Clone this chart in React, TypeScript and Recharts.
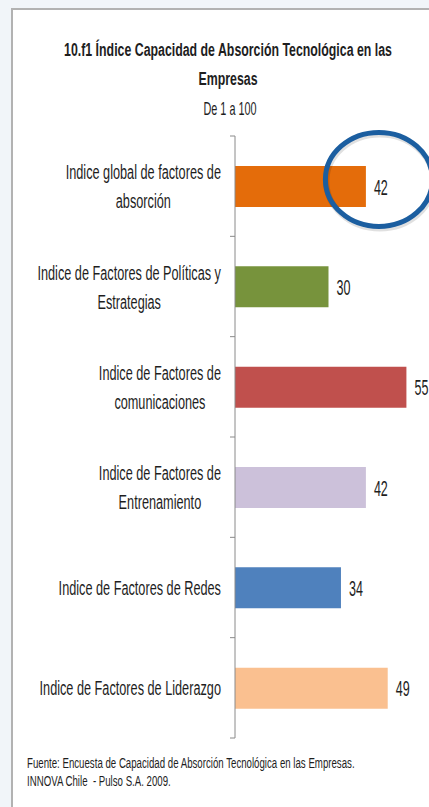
import React from 'react';
import { BarChart, Bar, XAxis, YAxis, Cell, LabelList, ReferenceDot } from 'recharts';

const categories = [
  'Indice global de factores de|absorción',
  'Indice de Factores de Políticas y|Estrategias',
  'Indice de Factores de|comunicaciones',
  'Indice de Factores de|Entrenamiento',
  'Indice de Factores de Redes',
  'Indice de Factores de Liderazgo',
];
const values = [42, 30, 55, 42, 34, 49];
const colors = ['#E46C0A', '#77933C', '#C0504D', '#CCC1DA', '#4F81BD', '#FAC090'];
const titleLines = ['10.f1 Índice Capacidad de Absorción Tecnológica en las', 'Empresas'];
const subtitle = 'De 1 a 100';
const footerLines = [
  'Fuente: Encuesta de Capacidad de Absorción Tecnológica en las Empresas.',
  'INNOVA Chile  - Pulso S.A. 2009.',
];
const xDomain = [0, 60];
const highlightIndex = 0;

const data = categories.map((name, i) => ({ name, value: values[i] }));

const W = 429;
const H = 807;
const AXIS_X = 235;
const TOP = 136;
const BOTTOM = 738;
const BAND = (BOTTOM - TOP) / categories.length;
const FONT = '"Liberation Sans", Arial, sans-serif';
const LABEL_SIZE = 21;
const LABEL_SX = 0.605;

let ctx: CanvasRenderingContext2D | null = null;
function measure(text: string, size: number, weight = 'normal') {
  if (!ctx) ctx = document.createElement('canvas').getContext('2d');
  if (!ctx) return text.length * size * 0.5;
  ctx.font = `${weight} ${size}px "Liberation Sans"`;
  return ctx.measureText(text).width;
}

function SText({ x, y, anchor = 'start', size, weight = 'normal', sx = 0.63, fill = '#1e1e1e', children }: any) {
  return (
    <text
      transform={`translate(${x},${y}) scale(${sx},1)`}
      textAnchor={anchor}
      fontFamily={FONT}
      fontSize={size}
      fontWeight={weight}
      fill={fill}
      style={{ whiteSpace: 'pre' }}
    >
      {children}
    </text>
  );
}

function CategoryTick(props: any) {
  const { y, payload, index } = props;
  const lines = String(payload.value).split('|');
  const gap = 29;
  const start = -((lines.length - 1) * gap) / 2;
  const isLast = index === categories.length - 1;
  const right = AXIS_X - 14;
  const blockW = Math.max(...lines.map((l) => measure(l, LABEL_SIZE) * LABEL_SX));
  const cx = right - blockW / 2;
  return (
    <g>
      {lines.map((ln: string, i: number) => (
        <SText key={i} x={cx} y={y + start + i * gap + 7.5} anchor="middle" size={LABEL_SIZE} sx={LABEL_SX}>
          {ln}
        </SText>
      ))}
      <line x1={AXIS_X - 5} x2={AXIS_X} y1={y - BAND / 2} y2={y - BAND / 2} stroke="#8a8a8a" strokeWidth={1} />
      {isLast && (
        <line x1={AXIS_X - 5} x2={AXIS_X} y1={y + BAND / 2} y2={y + BAND / 2} stroke="#8a8a8a" strokeWidth={1} />
      )}
    </g>
  );
}

function ValueLabel(props: any) {
  const { x, y, width, height, value } = props;
  return (
    <SText x={x + width + 8} y={y + height / 2 + 8} size={22} sx={0.57}>
      {value}
    </SText>
  );
}

function Ring(props: any) {
  const { cx, cy } = props;
  const ex = cx + 13;
  const ey = cy - 6.7;
  return (
    <g>
      <ellipse cx={ex + 1} cy={ey + 2} rx={53.5} ry={47} fill="none" stroke="rgba(0,0,0,0.12)" strokeWidth={6} />
      <ellipse cx={ex} cy={ey} rx={53.5} ry={47} fill="none" stroke="#1B5EA0" strokeWidth={5} />
    </g>
  );
}

export default function App() {
  return (
    <div style={{ position: 'absolute', left: 0, top: 0, width: W, height: H, background: '#f1f5f9', overflow: 'hidden' }}>
      <div
        style={{
          position: 'absolute',
          left: 11,
          top: 8,
          width: W,
          height: H,
          background: '#ffffff',
          borderLeft: '2px solid #b2b2b2',
          borderTop: '2px solid #b2b2b2',
        }}
      />
      <div style={{ position: 'absolute', left: 0, top: 0 }}>
        <BarChart
          width={W}
          height={H}
          data={data}
          layout="vertical"
          margin={{ top: TOP, right: W - 422, bottom: H - BOTTOM, left: 0 }}
        >
          <XAxis type="number" domain={xDomain} hide />
          <YAxis
            type="category"
            dataKey="name"
            width={AXIS_X}
            axisLine={{ stroke: '#8a8a8a', strokeWidth: 1 }}
            tickLine={false}
            tick={<CategoryTick />}
            interval={0}
          />
          <Bar dataKey="value" barSize={41} isAnimationActive={false}>
            {data.map((d, i) => (
              <Cell key={i} fill={colors[i]} />
            ))}
            <LabelList dataKey="value" content={<ValueLabel />} />
          </Bar>
          <ReferenceDot
            x={values[highlightIndex]}
            y={categories[highlightIndex]}
            r={1}
            ifOverflow="visible"
            shape={<Ring />}
          />
        </BarChart>
      </div>
      <svg width={W} height={H} style={{ position: 'absolute', left: 0, top: 0, pointerEvents: 'none' }}>
        <SText x={228} y={56} anchor="middle" size={19} weight="bold" sx={0.65}>
          {titleLines[0]}
        </SText>
        <SText x={228} y={85} anchor="middle" size={19} weight="bold" sx={0.65}>
          {titleLines[1]}
        </SText>
        <SText x={230} y={115} anchor="middle" size={17.5} sx={0.62}>
          {subtitle}
        </SText>
        <SText x={27} y={768} size={15} sx={0.645}>
          {footerLines[0]}
        </SText>
        <SText x={27} y={786} size={15} sx={0.645}>
          {footerLines[1]}
        </SText>
      </svg>
    </div>
  );
}
